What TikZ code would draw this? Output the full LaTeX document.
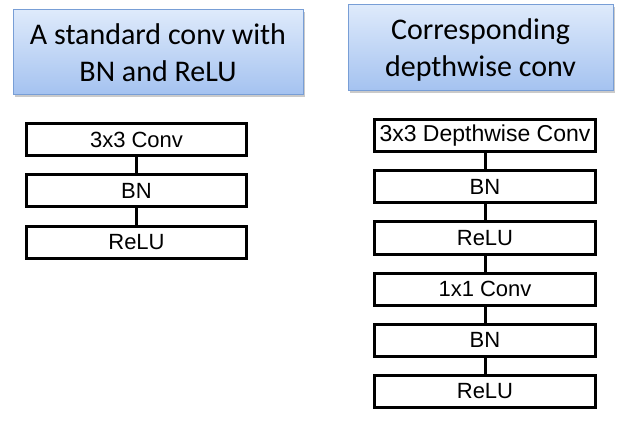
\documentclass[tikz,border=0pt]{standalone}
\usepackage{fontspec}
\setmainfont{Liberation Sans}
\newfontfamily\titlefont{Carlito}
\usetikzlibrary{shadows}
\definecolor{titletop}{RGB}{222,234,251}
\definecolor{titlebot}{RGB}{164,194,240}
\definecolor{titleborder}{RGB}{120,158,214}
\tikzset{
  titlebox/.style={draw=titleborder, line width=1pt, top color=titletop, bottom color=titlebot,
    align=center, inner sep=0pt, text depth=0pt,
    font=\titlefont\fontsize{30}{37}\selectfont,
    drop shadow={shadow xshift=1.5pt, shadow yshift=-2pt, opacity=0.35, fill=black!60}},
  layerbox/.style={draw=black, line width=3pt, fill=white, inner sep=0pt,
    minimum height=32pt, font=\fontsize{22}{26}\selectfont},
  link/.style={draw=black, line width=3pt}
}
\begin{document}
\begin{tikzpicture}[x=1pt,y=-1pt]
\useasboundingbox (0,0) rectangle (621,422);
% titles
\node[titlebox, minimum width=290pt, minimum height=85pt] (t1) at (158,52.5)
  {A standard conv with\\BN and ReLU};
\node[titlebox, minimum width=265pt, minimum height=86pt] (t2) at (480.5,48)
  {Corresponding\\depthwise conv};
% left column
\begin{scope}[every node/.append style={layerbox, minimum width=220pt}]
\node (l1) at (136.5,139.5) {3x3 Conv};
\node (l2) at (136.5,190.5) {BN};
\node (l3) at (136.5,242.5) {ReLU};
\end{scope}
% right column
\begin{scope}[every node/.append style={layerbox, minimum width=221pt}]
\node (r1) at (485,135.5) {\fontsize{23}{26}\selectfont 3x3 Depthwise Conv};
\node (r2) at (485,186.5) {BN};
\node (r3) at (485,238) {ReLU};
\node (r4) at (485,289) {1x1 Conv};
\node (r5) at (485,340) {BN};
\node (r6) at (485,391.5) {ReLU};
\end{scope}
\draw[link] (l1) -- (l2);
\draw[link] (l2) -- (l3);
\draw[link] (r1) -- (r2);
\draw[link] (r2) -- (r3);
\draw[link] (r3) -- (r4);
\draw[link] (r4) -- (r5);
\draw[link] (r5) -- (r6);
\end{tikzpicture}
\end{document}
